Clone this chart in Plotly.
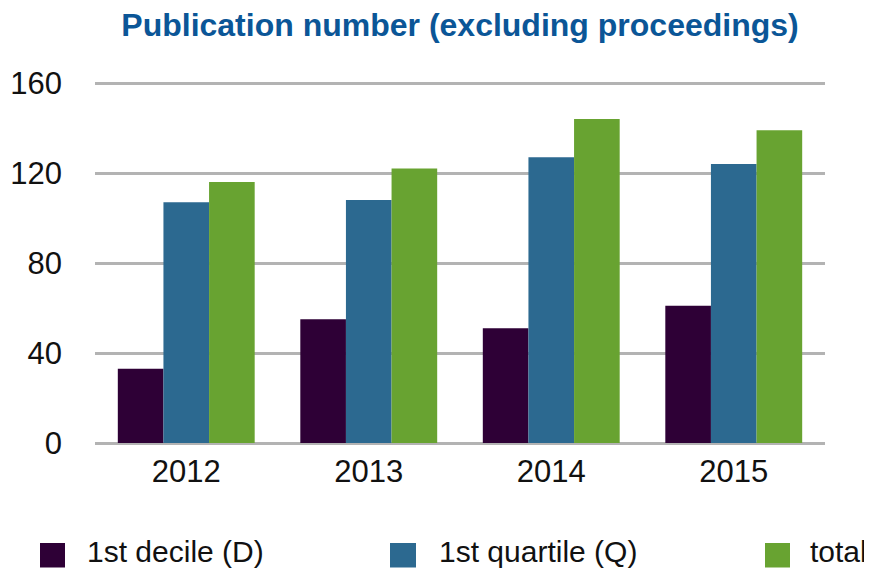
import plotly.graph_objects as go

years = ["2012", "2013", "2014", "2015"]
decile = [33, 55, 51, 61]
quartile = [107, 108, 127, 124]
total = [116, 122, 144, 139]
series_names = ["1st decile (D)", "1st quartile (Q)", "total"]
colors = ["#2e0036", "#2c6990", "#68a331"]
y_ticks = [0, 40, 80, 120, 160]

# page has an 8px body margin; figure is sized/positioned to compensate
OFF = 8
W, H = 872 - OFF, 571 - OFF
ML, MR, MT = 87, 47, 74
PH = 361
MB = H - MT - PH
PW = W - ML - MR

def px_x(p):  # page pixel -> paper x
    return (p - OFF - ML) / PW

def px_y(p):  # page pixel -> paper y
    return (H - MB - (p - OFF)) / PH

FONT = "Liberation Sans, Arial, Helvetica, sans-serif"

fig = go.Figure()
for name, vals, col in zip(series_names, [decile, quartile, total], colors):
    fig.add_trace(go.Bar(x=years, y=vals, name=name, marker_color=col,
                         marker_line_width=0, showlegend=False))

fig.update_layout(
    width=W, height=H,
    margin=dict(l=ML, r=MR, t=MT, b=MB, pad=0, autoexpand=False),
    paper_bgcolor="white", plot_bgcolor="white",
    barmode="group", bargap=0.25, bargroupgap=0,
    font=dict(family=FONT, size=31, color="#111111"),
    title=dict(text="<b>Publication number (excluding proceedings)</b>",
               font=dict(family=FONT, size=32, color="#0b5697"),
               x=0.5, xref="paper", xanchor="center",
               y=1 - 17 / H, yref="container", yanchor="middle"),
    xaxis=dict(showgrid=False, showline=False, ticks="", zeroline=False,
               automargin=False,
               tickfont=dict(size=31, color="#111111"), ticklabelstandoff=7),
    yaxis=dict(range=[0, 160.5], tickvals=y_ticks, showgrid=True,
               gridcolor="#b3b3b3", gridwidth=2.5, zeroline=True,
               zerolinecolor="#b3b3b3", zerolinewidth=2.5, showline=False,
               automargin=False,
               ticks="", tickfont=dict(size=31, color="#111111"),
               ticklabelstandoff=32),
)

# legend (manual, to match large swatches)
sq = [(40, 65), (390, 416), (765, 790)]
tx = [85, 437, 808]
for (x0, x1), t, name, col in zip(sq, tx, series_names, colors):
    fig.add_shape(type="rect", xref="paper", yref="paper",
                  x0=px_x(x0), x1=px_x(x1), y0=px_y(543), y1=px_y(567.5),
                  fillcolor=col, line_width=0)
    fig.add_annotation(text=name, xref="paper", yref="paper",
                       x=px_x(t), y=px_y(551), xanchor="left", yanchor="middle",
                       showarrow=False, font=dict(family=FONT, size=30, color="#111111"))

fig.write_html("out.html")
